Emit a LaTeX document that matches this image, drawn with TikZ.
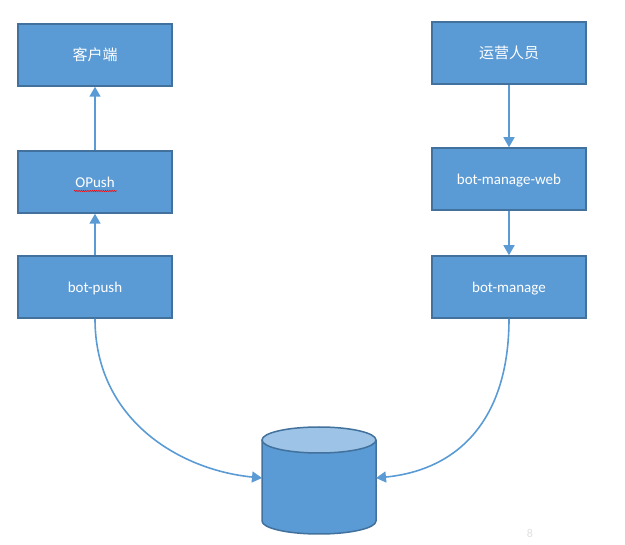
\documentclass[tikz,border=0pt]{standalone}
\usepackage{fontspec}
\setmainfont{Carlito}
\newfontfamily\cjk{Noto Sans CJK SC}
\usetikzlibrary{arrows.meta,decorations.pathmorphing}
\definecolor{boxfill}{HTML}{5B9BD5}
\definecolor{boxline}{HTML}{41719C}
\definecolor{dbtop}{HTML}{9DC3E6}
\definecolor{conn}{HTML}{5B9BD5}
\tikzset{
  box/.style={draw=boxline, fill=boxfill, line width=1.5pt, minimum width=154pt, minimum height=62pt, inner sep=0pt, text=white, text height=12pt, text depth=0.5pt, font=\fontsize{15}{18}\selectfont},
  conn/.style={draw=conn, line width=1.6pt, -{Triangle[width=11pt,length=10pt]}},
}
\begin{document}
\begin{tikzpicture}[x=1pt,y=-1pt]
\useasboundingbox (0,0) rectangle (625,545);
% boxes
\node[box] (client) at (95,55) {\cjk 客户端};
\node[box] (opush) at (95,182) {OPush};
\node[box] (botpush) at (95,287) {bot-push};
\node[box] (ops) at (509,53) {\cjk 运营人员};
\node[box] (web) at (509,179) {bot-manage-web};
\node[box] (manage) at (509,287) {bot-manage};
% squiggle under OPush
\draw[red, line width=0.5pt, decorate, decoration={snake, segment length=2.2pt, amplitude=0.7pt}] (74,191) -- (117,191);
% cylinder
\fill[boxfill] (262,440) -- (262,521) arc[start angle=180, end angle=0, x radius=57, y radius=13] -- (376,440) -- cycle;
\draw[boxline, line width=1.5pt] (262,440) -- (262,521) arc[start angle=180, end angle=0, x radius=57, y radius=13] -- (376,440);
\draw[boxline, fill=dbtop, line width=1.5pt] (319,440) ellipse[x radius=57, y radius=13];
\coordinate (dbL) at (262,478);
\coordinate (dbR) at (376,478);
% connectors
\draw[conn] (botpush.north) -- (opush.south);
\draw[conn] (opush.north) -- (client.south);
\draw[conn] (ops.south) -- (web.north);
\draw[conn] (web.south) -- (manage.north);
\draw[conn] (botpush.south) .. controls (95,420) and (180,470) .. (dbL);
\draw[conn] (manage.south) .. controls (509,420) and (458,470) .. (dbR);
% faint page number
\node[text=black!12, font=\fontsize{12}{14}\selectfont, inner sep=0pt] (pg) at (530,533) {8};
\end{tikzpicture}
\end{document}
